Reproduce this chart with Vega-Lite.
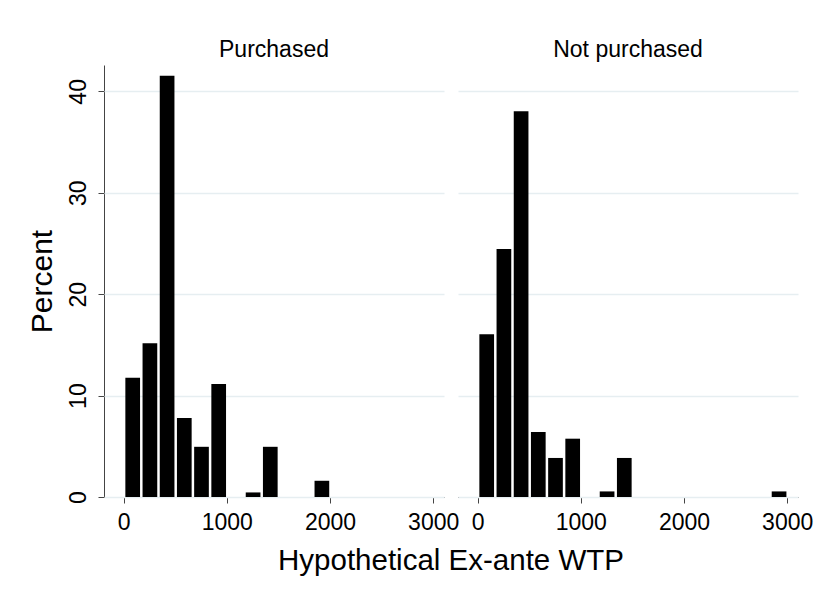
{
  "$schema": "https://vega.github.io/schema/vega-lite/v6.json",
  "background": "white",
  "padding": {"left": 27, "top": 39, "right": 10, "bottom": 10},
  "data": {
    "values": [
      {"group": "Purchased", "bin_start": 0, "bin_end": 166.667, "percent": 11.75},
      {"group": "Purchased", "bin_start": 166.667, "bin_end": 333.333, "percent": 15.15},
      {"group": "Purchased", "bin_start": 333.333, "bin_end": 500, "percent": 41.55},
      {"group": "Purchased", "bin_start": 500, "bin_end": 666.667, "percent": 7.8},
      {"group": "Purchased", "bin_start": 666.667, "bin_end": 833.333, "percent": 4.95},
      {"group": "Purchased", "bin_start": 833.333, "bin_end": 1000, "percent": 11.15},
      {"group": "Purchased", "bin_start": 1166.667, "bin_end": 1333.333, "percent": 0.45},
      {"group": "Purchased", "bin_start": 1333.333, "bin_end": 1500, "percent": 4.95},
      {"group": "Purchased", "bin_start": 1833.333, "bin_end": 2000, "percent": 1.6},
      {"group": "Not purchased", "bin_start": 0, "bin_end": 166.667, "percent": 16.05},
      {"group": "Not purchased", "bin_start": 166.667, "bin_end": 333.333, "percent": 24.45},
      {"group": "Not purchased", "bin_start": 333.333, "bin_end": 500, "percent": 38.05},
      {"group": "Not purchased", "bin_start": 500, "bin_end": 666.667, "percent": 6.4},
      {"group": "Not purchased", "bin_start": 666.667, "bin_end": 833.333, "percent": 3.85},
      {"group": "Not purchased", "bin_start": 833.333, "bin_end": 1000, "percent": 5.75},
      {"group": "Not purchased", "bin_start": 1166.667, "bin_end": 1333.333, "percent": 0.55},
      {"group": "Not purchased", "bin_start": 1333.333, "bin_end": 1500, "percent": 3.85},
      {"group": "Not purchased", "bin_start": 2833.333, "bin_end": 3000, "percent": 0.55}
    ]
  },
  "facet": {
    "column": {
      "field": "group",
      "type": "nominal",
      "sort": ["Purchased", "Not purchased"],
      "title": "Hypothetical Ex-ante WTP",
      "header": {
        "labelFont": "Liberation Sans",
        "labelFontSize": 23,
        "labelColor": "black",
        "labelOrient": "top",
        "labelPadding": 3,
        "titleOrient": "bottom",
        "titleFont": "Liberation Sans",
        "titleFontSize": 29.5,
        "titleFontWeight": "normal",
        "titleColor": "black",
        "titlePadding": 3
      }
    }
  },
  "spacing": 14,
  "spec": {
    "width": 340,
    "height": 432,
    "mark": {"type": "bar", "color": "black", "binSpacing": 2.5},
    "encoding": {
      "x": {
        "field": "bin_start",
        "type": "quantitative",
        "bin": {"binned": true, "step": 166.667},
        "scale": {"domain": [-190, 3105], "nice": false, "zero": false},
        "axis": {
          "values": [0, 1000, 2000, 3000],
          "format": "d",
          "grid": false,
          "labelFlush": false,
          "labelOverlap": false,
          "labelPadding": 8
        },
        "title": null
      },
      "x2": {"field": "bin_end"},
      "y": {
        "field": "percent",
        "type": "quantitative",
        "scale": {"domain": [0, 42.6], "nice": false},
        "axis": {
          "values": [0, 10, 20, 30, 40],
          "grid": true,
          "labelAngle": -90,
          "labelAlign": "center",
          "labelBaseline": "bottom",
          "labelPadding": 8
        },
        "title": "Percent"
      }
    }
  },
  "config": {
    "view": {"stroke": null},
    "font": "Liberation Sans",
    "axis": {
      "labelFont": "Liberation Sans",
      "labelFontSize": 23,
      "labelColor": "black",
      "titleFont": "Liberation Sans",
      "titleFontSize": 30,
      "titleFontWeight": "normal",
      "titleColor": "black",
      "domainColor": "#444",
      "tickColor": "#444",
      "tickSize": 6,
      "gridColor": "#e6eef1",
      "gridWidth": 1.5,
      "titlePadding": 10
    }
  }
}
